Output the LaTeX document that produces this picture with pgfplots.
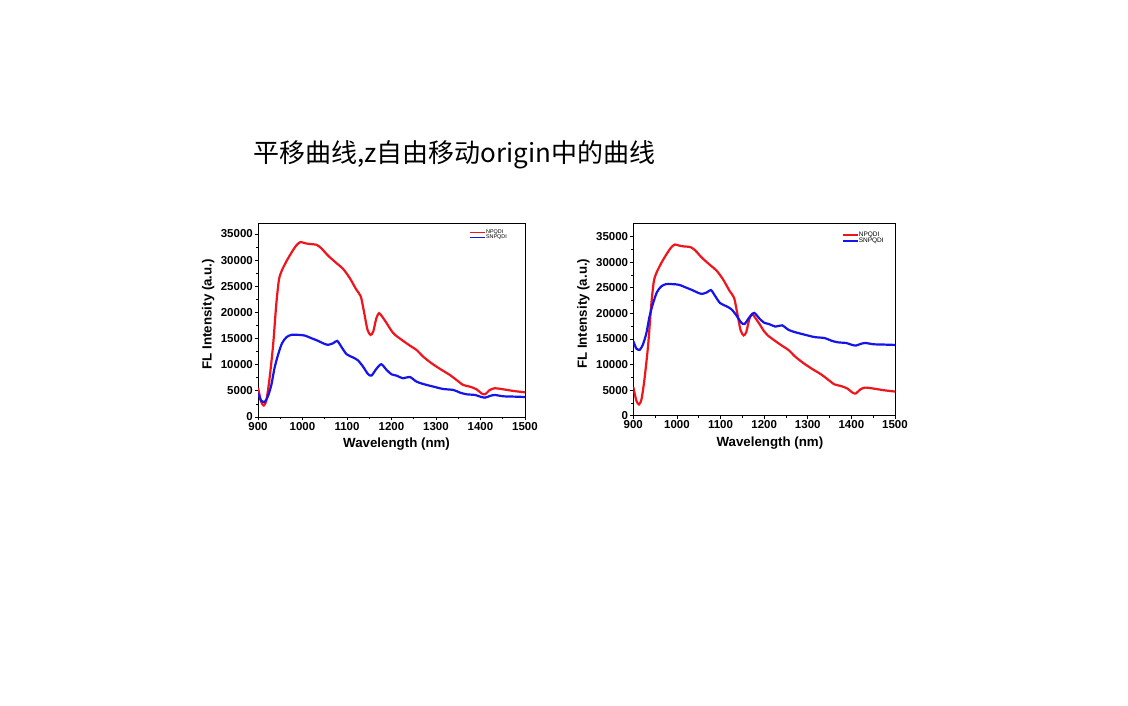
\documentclass[border=0pt]{standalone}
\usepackage{pgfplots}
\pgfplotsset{compat=1.18}
\usepackage{fontspec}
\setmainfont{Liberation Sans}
\newfontfamily\cjk{Noto Sans CJK SC}
\definecolor{ored}{RGB}{240,20,28}
\definecolor{oblue}{RGB}{20,20,235}

\pgfplotsset{
  originstyle/.style={
    scale only axis,
    xmin=900, xmax=1500, ymin=0,
    xtick={900,1000,...,1500},
    ytick={0,5000,...,35000},
    minor x tick num=1, minor y tick num=1,
    tick align=outside, xtick pos=bottom, ytick pos=left,
    major tick length=3.5pt, minor tick length=2pt,
    scaled y ticks=false, scaled x ticks=false,
    /pgf/number format/1000 sep={},
    /pgf/number format/assume math mode=true,
    ticklabel style={font=\bfseries\fontsize{11.5}{12}\selectfont},
    yticklabel style={inner sep=1.5pt},
    xticklabel style={inner sep=1.5pt},
    axis line style={line width=0.9pt},
    every tick/.style={black, line width=0.8pt},
    label style={font=\bfseries\fontsize{13.3}{14}\selectfont},
    xlabel={Wavelength (nm)},
    ylabel={FL Intensity (a.u.)},
    legend image code/.code={\draw[#1, line width=1.4pt] (0pt,0pt) -- (15pt,0pt);},
    legend cell align=left,
  },
  redline/.style={color=ored, line width=2.2pt, smooth, tension=0.45},
  blueline/.style={color=oblue, line width=2.2pt, smooth, tension=0.45},
}

\pgfplotstableread{
x y
900 5600
907 2950
913 2200
919 3300
926 7400
934 13800
941 21500
947 26200
953 27900
964 29800
975 31400
986 32800
995 33450
1005 33250
1016 33080
1031 32950
1042 32300
1057 30900
1076 29450
1091 28350
1106 26600
1121 24350
1131 23050
1138 20200
1146 16700
1153 15700
1159 16350
1166 18900
1172 19860
1179 19200
1189 17950
1200 16480
1208 15710
1223 14750
1241 13670
1256 12840
1271 11560
1290 10280
1309 9200
1331 8050
1346 7090
1361 6130
1376 5810
1391 5300
1402 4530
1410 4340
1421 5170
1432 5490
1451 5300
1474 4980
1500 4720
}\npqdi

\pgfplotstableread{
x y
900 4600
907 3130
915 2900
922 3900
930 6130
937 9320
945 11880
954 14110
964 15260
975 15710
990 15710
1005 15580
1020 15070
1035 14560
1046 14110
1057 13800
1069 14110
1078 14560
1087 13470
1099 12010
1114 11370
1125 10800
1136 9640
1147 8240
1155 7920
1166 9200
1177 10090
1189 9000
1200 8170
1211 7920
1226 7410
1241 7660
1256 6770
1271 6320
1294 5810
1316 5360
1339 5170
1354 4660
1369 4340
1388 4210
1399 3900
1410 3700
1421 4020
1432 4210
1451 3960
1474 3900
1500 3830
}\snpqdi

\pgfplotstableread{
x y
900 14600
907 13130
915 12900
922 13900
930 16130
937 19320
945 21880
954 24110
964 25260
975 25710
990 25710
1005 25580
1020 25070
1035 24560
1046 24110
1057 23800
1069 24110
1078 24560
1087 23470
1099 22010
1114 21370
1125 20800
1136 19640
1147 18240
1155 17920
1166 19200
1177 20090
1189 19000
1200 18170
1211 17920
1226 17410
1241 17660
1256 16770
1271 16320
1294 15810
1316 15360
1339 15170
1354 14660
1369 14340
1388 14210
1399 13900
1410 13700
1421 14020
1432 14210
1451 13960
1474 13900
1500 13830
}\snpqdishift

\begin{document}
\begin{tikzpicture}
\path[use as bounding box, fill=white] (0pt,0pt) rectangle (1128pt,705pt);

\node[anchor=base west, inner sep=0pt] at (253pt,542pt)
  {\cjk\fontsize{26}{26}\selectfont 平移曲线,z自由移动origin中的曲线};

% left plot
\begin{axis}[originstyle,
  at={(258pt,288pt)}, anchor=south west,
  width=267pt, height=194pt, ymax=37100,
  xlabel style={at={(axis description cs:0.519,-0.158)}, anchor=base},
  ylabel style={at={(axis description cs:-0.187,0.53)}, anchor=center, rotate=0},
  legend style={at={(rel axis cs:0.79,0.97)}, anchor=north west, draw=none, fill=none,
    inner sep=0pt, row sep=-1.2pt, font=\fontsize{5.4}{6}\selectfont,
    nodes={inner sep=0.6pt}},
]
\addplot[redline] table[x=x,y=y] {\npqdi};
\addlegendentry{NPQDI}
\addplot[blueline] table[x=x,y=y] {\snpqdi};
\addlegendentry{SNPQDI}
\end{axis}

% right plot
\begin{axis}[originstyle,
  at={(633.3pt,289.3pt)}, anchor=south west,
  width=261.7pt, height=192.4pt, ymax=37600,
  xlabel style={at={(axis description cs:0.522,-0.159)}, anchor=base},
  ylabel style={at={(axis description cs:-0.191,0.53)}, anchor=center, rotate=0},
  legend style={at={(rel axis cs:0.796,0.958)}, anchor=north west, draw=none, fill=none,
    inner sep=0pt, row sep=-1.5pt, font=\fontsize{6.5}{7}\selectfont,
    nodes={inner sep=0.6pt}},
]
\addplot[redline] table[x=x,y=y] {\npqdi};
\addlegendentry{NPQDI}
\addplot[blueline] table[x=x,y=y] {\snpqdishift};
\addlegendentry{SNPQDI}
\end{axis}
\end{tikzpicture}
\end{document}
